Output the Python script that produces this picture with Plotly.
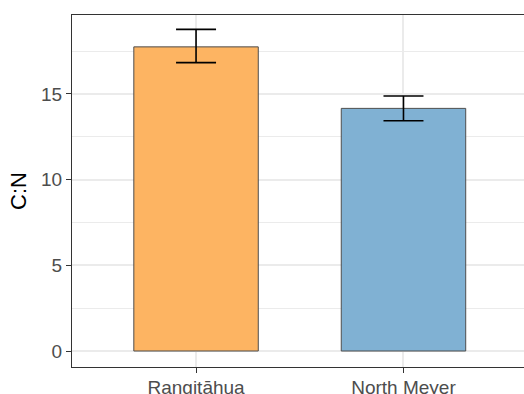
import plotly.graph_objects as go

sites = ["Rangitāhua", "North Meyer"]
cn_mean = [17.75, 14.16]
cn_lower = [16.83, 13.44]
cn_upper = [18.77, 14.88]
bar_colors = ["#FDB462", "#80B1D3"]
y_ticks = [0, 5, 10, 15]

font_family = "Liberation Sans, Arial, sans-serif"

fig = go.Figure()
fig.add_trace(go.Bar(
    x=sites,
    y=cn_mean,
    width=0.6,
    marker=dict(color=bar_colors, line=dict(color="#4d4d4d", width=1)),
    error_y=dict(
        type="data",
        symmetric=False,
        array=[u - m for u, m in zip(cn_upper, cn_mean)],
        arrayminus=[m - l for m, l in zip(cn_mean, cn_lower)],
        color="black",
        thickness=1.6,
        width=20,
    ),
    showlegend=False,
))

fig.update_layout(
    width=524,
    height=394,
    margin=dict(l=72, r=0, t=15, b=27, autoexpand=False),
    paper_bgcolor="white",
    plot_bgcolor="white",
    font=dict(family=font_family),
    xaxis=dict(
        type="category",
        range=[-0.598, 1.581],
        automargin=False,
        showgrid=True,
        gridcolor="#ebebeb",
        gridwidth=1.5,
        showline=True,
        linecolor="#333333",
        linewidth=1.2,
        mirror=True,
        ticks="outside",
        ticklen=5,
        tickcolor="#333333",
        tickwidth=1.2,
        ticklabelstandoff=-2,
        tickfont=dict(size=19, color="#4d4d4d", family=font_family),
        zeroline=False,
    ),
    yaxis=dict(
        range=[-0.934, 19.61],
        automargin=False,
        tickvals=y_ticks,
        showgrid=True,
        gridcolor="#ebebeb",
        gridwidth=1.5,
        minor=dict(dtick=2.5, tick0=0, showgrid=True, gridcolor="#ebebeb", gridwidth=1),
        showline=True,
        linecolor="#333333",
        linewidth=1.2,
        mirror=False,
        ticks="outside",
        ticklen=5,
        tickcolor="#333333",
        tickwidth=1.2,
        tickfont=dict(size=19, color="#4d4d4d", family=font_family),
        title=dict(text="C:N", font=dict(size=22, color="black", family=font_family), standoff=8),
        zeroline=False,
    ),
)

fig.write_html(
    "out.html",
    config={"displayModeBar": False},
    post_script="document.body.style.margin='0';document.body.style.overflow='hidden';",
)
